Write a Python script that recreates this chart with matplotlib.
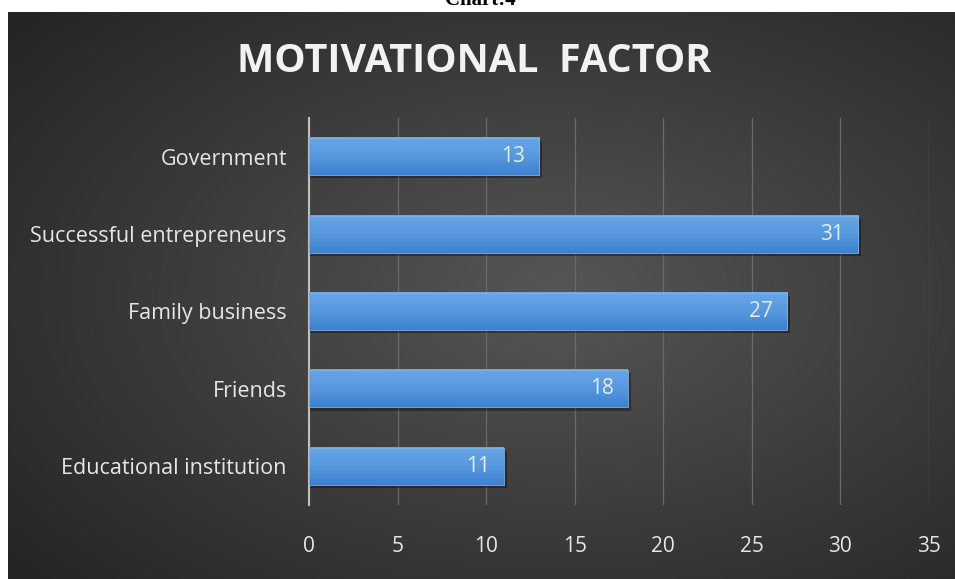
import numpy as np
import matplotlib.pyplot as plt
from matplotlib.colors import LinearSegmentedColormap

categories = ["Educational institution", "Friends", "Family business",
              "Successful entrepreneurs", "Government"]
values = [11, 18, 27, 31, 13]
xticks = [0, 5, 10, 15, 20, 25, 30, 35]

W, H = 955, 579
fig = plt.figure(figsize=(W / 100, H / 100), dpi=100)
fig.patch.set_facecolor("white")

# dark radial background panel
bg = fig.add_axes([8 / W, 0, 1 - 8 / W, 1 - 12 / H])
bg.set_axis_off()
yy, xx = np.mgrid[0:1:300j, 0:1:500j]
r = np.sqrt(((xx - 0.58) / 0.75) ** 2 + ((yy - 0.5) / 0.75) ** 2)
bg_cmap = LinearSegmentedColormap.from_list("bg", ["#565656", "#3d3d3d", "#252525"])
bg.imshow(r, cmap=bg_cmap, aspect="auto", extent=[0, 1, 0, 1], vmin=0, vmax=1)
bg.set_xlim(0, 1)
bg.set_ylim(0, 1)

fig.text(0.503, 1.0, "Chart:4", ha="center", va="center", fontsize=15,
         fontweight="bold", family="Liberation Serif", color="black")
fig.text(0.497, 1 - 62 / H, "MOTIVATIONAL  FACTOR", ha="center", va="center",
         fontsize=28.5, fontweight="bold", family="Open Sans", color="#f2f2f2")

ax = fig.add_axes([309 / W, 1 - 505 / H, (929 - 309) / W, (505 - 118) / H])
ax.set_facecolor("none")
ax.set_xlim(0, 35)
ax.set_ylim(-0.5, len(categories) - 0.5)

ypos = np.arange(len(categories))
bh = 0.48
bar_cmap = LinearSegmentedColormap.from_list("bar", ["#3c82d0", "#5898de", "#68a6e6"])
grad = np.linspace(0, 1, 50).reshape(-1, 1)
for y, v in zip(ypos, values):
    # shadow
    ax.barh(y - 0.04, v + 0.15, height=bh, color="black", alpha=0.35, zorder=2)
    ax.imshow(grad, cmap=bar_cmap, aspect="auto", origin="lower",
              extent=[0, v, y - bh / 2, y + bh / 2], zorder=3)
    ax.barh(y, v, height=bh, facecolor="none", edgecolor="#7fb4ea",
            linewidth=0.6, zorder=4)
    ax.text(v - 0.8, y, str(v), ha="right", va="center", fontsize=15,
            family="Open Sans", color="#e4eef8", zorder=5)

ax.set_yticks(ypos)
ax.set_yticklabels(categories, family="Open Sans", fontsize=15.5, color="#e6e6e6")
ax.set_xticks(xticks)
ax.set_xticklabels([str(t) for t in xticks], family="Open Sans", fontsize=15,
                   color="#e6e6e6")
ax.tick_params(axis="y", length=0, pad=16)
ax.tick_params(axis="x", length=0, pad=22)
ax.grid(axis="x", color="#6a6a6a", linewidth=0.9, zorder=0)
ax.set_axisbelow(True)
for s in ["top", "right", "bottom"]:
    ax.spines[s].set_visible(False)
ax.spines["left"].set_color("#bfbfbf")
ax.spines["left"].set_linewidth(1.5)

fig.savefig("out.png", dpi=100)
